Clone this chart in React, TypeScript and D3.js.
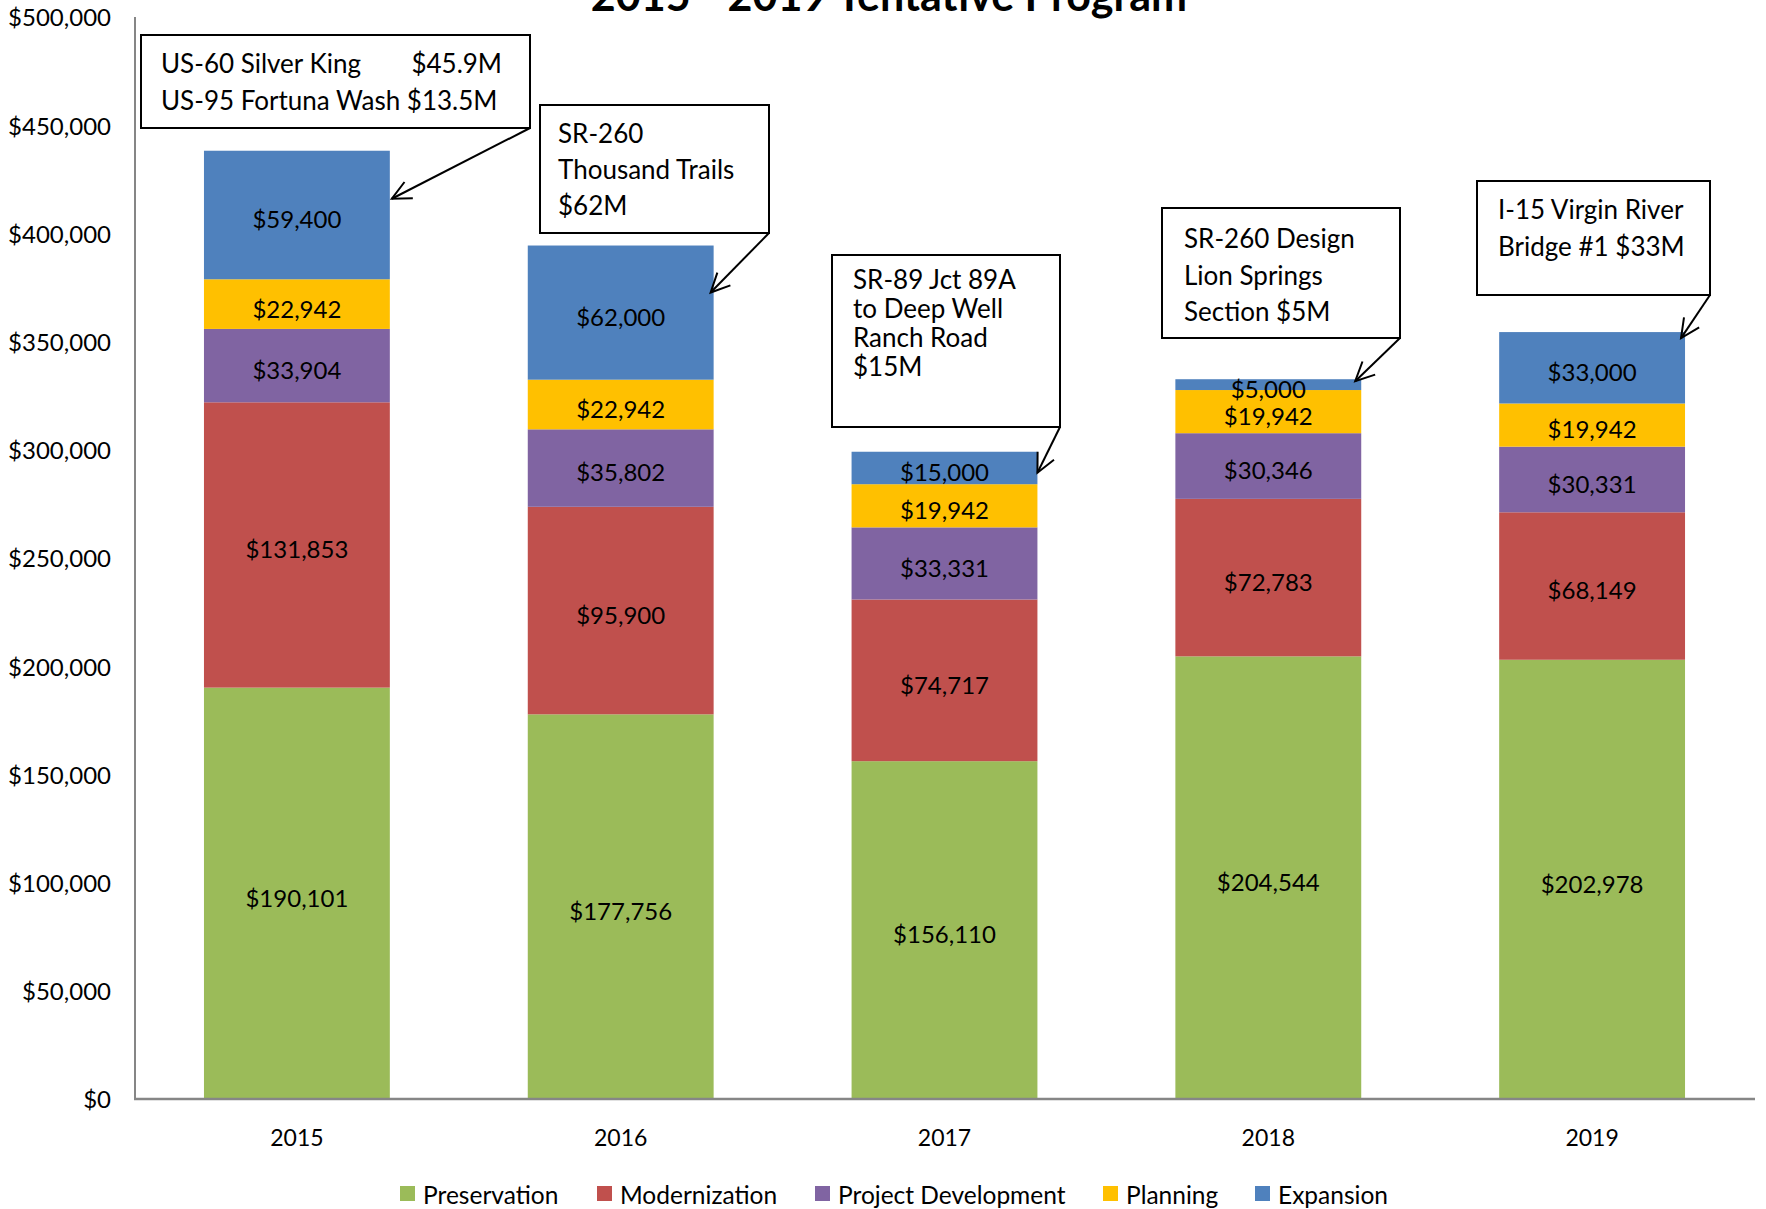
import React from "react";
import * as d3 from "d3";

const years = ["2015", "2016", "2017", "2018", "2019"];
const preservation = [190101, 177756, 156110, 204544, 202978];
const modernization = [131853, 95900, 74717, 72783, 68149];
const projectDevelopment = [33904, 35802, 33331, 30346, 30331];
const planning = [22942, 22942, 19942, 19942, 19942];
const expansion = [59400, 62000, 15000, 5000, 33000];
const seriesNames = ["Preservation", "Modernization", "Project Development", "Planning", "Expansion"];
const seriesColors = ["#9BBB59", "#C0504D", "#8064A2", "#FFC000", "#4F81BD"];
const yTicks = [0, 50000, 100000, 150000, 200000, 250000, 300000, 350000, 400000, 450000, 500000];
const title = "2015 - 2019 Tentative Program";

const calloutLines = [
  ["US-60 Silver King", "US-95 Fortuna Wash $13.5M"],
  ["SR-260", "Thousand Trails", "$62M"],
  ["SR-89 Jct 89A", "to Deep Well", "Ranch Road", "$15M"],
  ["SR-260 Design", "Lion Springs", "Section $5M"],
  ["I-15 Virgin River", "Bridge #1 $33M"],
];
const calloutExtra = "$45.9M";

// layout for callouts (box rect, text offset, line spacing, arrow tip offset from bar top-right)
const calloutLayout = [
  { x: 141, y: 35, w: 389, h: 93, tx: 161, ty: 73, lh: 37, tip: [2, 48] },
  { x: 540, y: 105, w: 229, h: 128, tx: 558, ty: 143, lh: 36, tip: [-3, 47] },
  { x: 832, y: 255, w: 228, h: 172, tx: 853, ty: 289, lh: 29, tip: [0, 21] },
  { x: 1162, y: 208, w: 238, h: 130, tx: 1184, ty: 248, lh: 36.5, tip: [-6, 2] },
  { x: 1477, y: 181, w: 233, h: 114, tx: 1498, ty: 219, lh: 37, tip: [-4, 6] },
];

const W = 1766;
const H = 1209;
const FONT = "Lato, 'Open Sans', sans-serif";

export default function App() {
  const x = d3.scaleBand<string>().domain(years).range([135, 1754]).paddingInner(0.426).paddingOuter(0.213);
  const y = d3.scaleLinear().domain([0, 500000]).range([1099, 17]);

  const rows = years.map((yr, i) => ({
    year: yr,
    Preservation: preservation[i],
    Modernization: modernization[i],
    "Project Development": projectDevelopment[i],
    Planning: planning[i],
    Expansion: expansion[i],
  }));
  const stacked = d3.stack<any>().keys(seriesNames)(rows);
  const fmt = d3.format("$,");

  const legendX = [400, 597, 815, 1103, 1255];

  return (
    <svg width={W} height={H} style={{ position: "absolute", left: 0, top: 0, background: "#fff" }} fontFamily={FONT}>
      <rect x={0} y={0} width={W} height={H} fill="#fff" />
      <text x={889} y={11} textAnchor="middle" fontSize={43} fontWeight="bold" fill="#000">
        {title}
      </text>

      {/* bars */}
      {stacked.map((s, si) => (
        <g key={s.key}>
          {s.map((d, i) => {
            const y0 = y(d[0]);
            const y1 = y(d[1]);
            return (
              <rect key={i} x={x(years[i])} y={y1} width={x.bandwidth()} height={y0 - y1} fill={seriesColors[si]} />
            );
          })}
        </g>
      ))}
      {stacked.map((s) => (
        <g key={"l" + s.key}>
          {s.map((d, i) => (
            <text
              key={i}
              x={(x(years[i]) as number) + x.bandwidth() / 2}
              y={(y(d[0]) + y(d[1])) / 2 + 5}
              dy="0.35em"
              textAnchor="middle"
              fontSize={24}
              fill="#000"
            >
              {fmt(d[1] - d[0])}
            </text>
          ))}
        </g>
      ))}

      {/* axes */}
      <line x1={135} x2={135} y1={y(500000)} y2={y(0)} stroke="#868686" strokeWidth={2} />
      <line x1={134} x2={1755} y1={y(0)} y2={y(0)} stroke="#868686" strokeWidth={2.5} />
      {yTicks.map((t) => (
        <text key={t} x={111} y={y(t) + 1} dy="0.35em" textAnchor="end" fontSize={24} fill="#000">
          {fmt(t)}
        </text>
      ))}
      {years.map((yr) => (
        <text key={yr} x={(x(yr) as number) + x.bandwidth() / 2} y={1138} dy="0.35em" textAnchor="middle" fontSize={23} fill="#000">
          {yr}
        </text>
      ))}

      {/* callouts */}
      {calloutLayout.map((c, i) => {
        const totalTop = y(stacked[stacked.length - 1][i][1]);
        const barRight = (x(years[i]) as number) + x.bandwidth();
        const tipX = barRight + c.tip[0];
        const tipY = totalTop + c.tip[1];
        const sx = c.x + c.w;
        const sy = c.y + c.h;
        const ang = Math.atan2(tipY - sy, tipX - sx);
        const L = 21;
        const a1 = ang + Math.PI - 0.45;
        const a2 = ang + Math.PI + 0.45;
        return (
          <g key={"c" + i}>
            <rect x={c.x} y={c.y} width={c.w} height={c.h} fill="#fff" stroke="#000" strokeWidth={2} />
            {calloutLines[i].map((ln, li) => (
              <text key={li} x={c.tx} y={c.ty + li * c.lh} fontSize={26} fill="#000">
                {ln}
              </text>
            ))}
            {i === 0 && (
              <text x={502} y={c.ty} textAnchor="end" fontSize={26} fill="#000">
                {calloutExtra}
              </text>
            )}
            <line x1={sx} y1={sy} x2={tipX} y2={tipY} stroke="#000" strokeWidth={2} />
            <polyline
              points={`${tipX + L * Math.cos(a1)},${tipY + L * Math.sin(a1)} ${tipX},${tipY} ${tipX + L * Math.cos(a2)},${tipY + L * Math.sin(a2)}`}
              fill="none"
              stroke="#000"
              strokeWidth={2}
            />
          </g>
        );
      })}

      {/* legend */}
      {seriesNames.map((n, i) => (
        <g key={n}>
          <rect x={legendX[i]} y={1186} width={15} height={15} fill={seriesColors[i]} />
          <text x={legendX[i] + 23} y={1195} dy="0.35em" fontSize={24.5} fill="#000">
            {n}
          </text>
        </g>
      ))}
    </svg>
  );
}
